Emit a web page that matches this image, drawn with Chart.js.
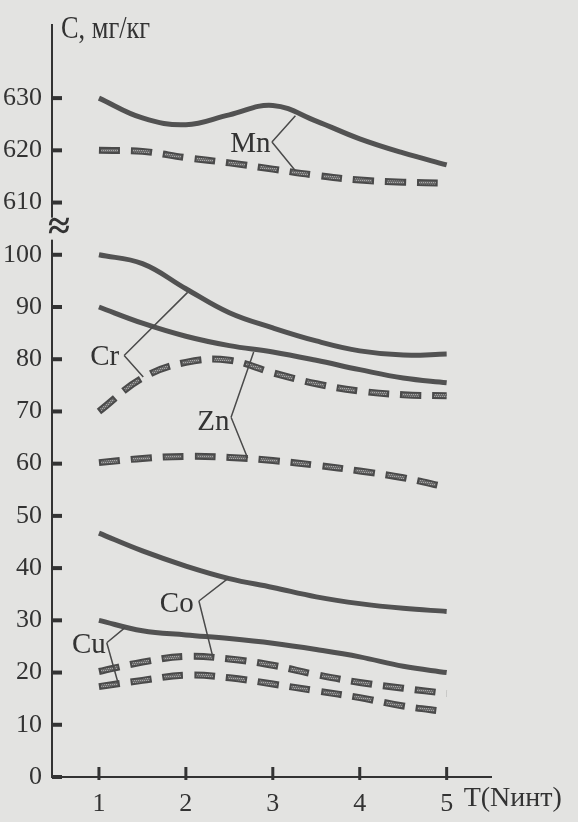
<!DOCTYPE html>
<html>
<head>
<meta charset="utf-8">
<script src="https://cdn.jsdelivr.net/npm/chart.js@4"></script>
<style>
  html, body { margin: 0; background: #e3e3e1; }
  #wrap { width: 578px; height: 822px; }
</style>
</head>
<body>
<div id="wrap"><canvas id="chart"></canvas></div>
<script>
// Concentration of metals, mg/kg, over the time intervals 1..5.
// Solid lines and dashed lines are the two curves of each metal.
const xs = [1, 1.5, 2, 2.5, 3, 3.5, 4, 4.5, 5];

const mnSolid  = [630, 626.2, 624.9, 626.8, 628.6, 625.6, 622.2, 619.5, 617.2];
const mnDashed = [620, 619.8, 618.6, 617.6, 616.4, 615.2, 614.3, 613.9, 613.7];
const crSolid  = [100, 98.3, 93.5, 88.9, 86.0, 83.5, 81.6, 80.8, 81.0];
const crDashed = [70, 76.4, 79.4, 79.8, 77.4, 75.3, 73.9, 73.2, 73.0];
const znSolid  = [90, 86.9, 84.4, 82.6, 81.4, 79.8, 78.0, 76.4, 75.5];
const znDashed = [60.2, 61.0, 61.4, 61.2, 60.6, 59.7, 58.6, 57.3, 55.5];
const coSolid  = [46.7, 43.3, 40.4, 38.0, 36.3, 34.5, 33.2, 32.3, 31.7];
const coDashed = [20.2, 22.0, 23.1, 22.6, 21.4, 19.6, 18.1, 17.0, 16.0];
const cuSolid  = [30, 28.0, 27.2, 26.5, 25.6, 24.4, 23.0, 21.2, 20.0];
const cuDashed = [17.3, 18.5, 19.5, 19.0, 17.8, 16.5, 15.2, 13.6, 12.5];

const yTicks = [0, 10, 20, 30, 40, 50, 60, 70, 80, 90, 100, 610, 620, 630];
const xTicks = [1, 2, 3, 4, 5];

// the axis is broken between 100 and 610: 610 sits one step above 100
const toAxis = (v) => (v > 500 ? v - 500 : v);

const INK = "#333333";
const LINE = "#525252";
const PAPER = "#e3e3e1";
const SERIF = '"Liberation Serif", "DejaVu Serif", serif';

// element names with their leader lines, in data units
const tags = [
  { text: "Mn", at: [2.51, 619.7], tip: [2.99, 621.6], ends: [[3.26, 626.6], [3.26, 616.1]] },
  { text: "Cr", at: [0.90, 78.9],  tip: [1.29, 80.7],  ends: [[2.02, 92.8], [1.51, 76.6]] },
  { text: "Zn", at: [2.13, 66.5],  tip: [2.52, 68.9],  ends: [[2.78, 81.4], [2.71, 61.1]] },
  { text: "Co", at: [1.70, 31.6],  tip: [2.15, 33.7],  ends: [[2.49, 38.1], [2.31, 23.0]] },
  { text: "Cu", at: [0.69, 23.8],  tip: [1.09, 25.7],  ends: [[1.30, 28.6], [1.22, 18.0]] },
];

function hatch() {
  const c = document.createElement("canvas");
  c.width = 4; c.height = 4;
  const g = c.getContext("2d");
  g.fillStyle = "#6a6a6a"; g.fillRect(0, 0, 4, 4);
  g.fillStyle = "#a8a8a8";
  g.fillRect(0, 0, 1, 1); g.fillRect(2, 0, 1, 1);
  g.fillRect(1, 2, 1, 1); g.fillRect(3, 2, 1, 1);
  return g.createPattern(c, "repeat");
}
const HATCH = hatch();

const pts = (arr) => xs.map((x, i) => ({ x, y: toAxis(arr[i]) }));

const solid = (arr) => ({
  data: pts(arr), borderColor: LINE, borderWidth: 5, order: 1,
});
const dashOuter = (arr) => ({
  data: pts(arr), borderColor: "#4a4a4a", borderWidth: 7,
  borderDash: [21, 11], order: 2,
});
const dashInner = (arr) => ({
  data: pts(arr), borderColor: HATCH, borderWidth: 3,
  borderDash: [17, 15], borderDashOffset: -2, order: 0,
});

const datasets = [];
[mnSolid, crSolid, znSolid, coSolid, cuSolid].forEach((a) => datasets.push(solid(a)));
[mnDashed, crDashed, znDashed, coDashed, cuDashed].forEach((a) => {
  datasets.push(dashOuter(a));
  datasets.push(dashInner(a));
});

const decor = {
  id: "decor",
  afterDraw(chart) {
    const { ctx, chartArea } = chart;
    const xS = chart.scales.x, yS = chart.scales.y;
    const px = (x) => xS.getPixelForValue(x);
    const py = (v) => yS.getPixelForValue(toAxis(v));
    ctx.save();

    // tick marks point into the plot
    ctx.fillStyle = INK;
    yTicks.forEach((v) => ctx.fillRect(chartArea.left, py(v) - 2, 10, 4));
    xTicks.forEach((v) => ctx.fillRect(px(v) - 1.5, chartArea.bottom - 10, 3, 13));

    // axis break
    const by = yS.getPixelForValue(105);
    ctx.fillStyle = PAPER;
    ctx.fillRect(chartArea.left - 4, by - 11, 10, 22);
    ctx.fillStyle = INK;
    ctx.font = "bold 40px " + SERIF;
    ctx.textAlign = "center";
    ctx.textBaseline = "middle";
    ctx.fillText("≈", chartArea.left + 7, by);

    // leader lines and names
    ctx.strokeStyle = "#4a4a4a";
    ctx.lineWidth = 1.5;
    tags.forEach((t) => {
      ctx.beginPath();
      t.ends.forEach((e) => {
        ctx.moveTo(px(t.tip[0]), py(t.tip[1]));
        ctx.lineTo(px(e[0]), py(e[1]));
      });
      ctx.stroke();
      ctx.fillStyle = INK;
      ctx.font = "29px " + SERIF;
      ctx.textAlign = "left";
      ctx.textBaseline = "alphabetic";
      ctx.fillText(t.text, px(t.at[0]), py(t.at[1]));
    });

    // axis titles
    ctx.font = "31px " + SERIF;
    ctx.save();
    ctx.translate(chartArea.left + 9, 38);
    ctx.scale(0.85, 1);
    ctx.fillText("C, мг/кг", 0, 0);
    ctx.restore();
    ctx.font = "28px " + SERIF;
    ctx.fillText("T(Nинт)", px(5) + 17, 806);

    ctx.restore();
  },
};

new Chart(document.getElementById("chart"), {
  type: "line",
  data: { datasets },
  options: {
    responsive: true,
    maintainAspectRatio: false,
    animation: false,
    layout: { padding: { top: 25, right: 87, left: 0, bottom: 0 } },
    plugins: { legend: { display: false }, tooltip: { enabled: false } },
    elements: {
      point: { radius: 0 },
      line: { tension: 0.4, borderCapStyle: "butt" },
    },
    scales: {
      x: {
        type: "linear", min: 0.46, max: 5.51,
        afterBuildTicks: (s) => { s.ticks = xTicks.map((v) => ({ value: v })); },
        afterFit: (s) => { s.height = 45; },
        grid: { display: false },
        border: { color: INK, width: 2 },
        ticks: { color: INK, font: { family: SERIF, size: 26 }, padding: 4 },
      },
      y: {
        type: "linear", min: 0, max: 144,
        afterBuildTicks: (s) => { s.ticks = yTicks.map((v) => ({ value: toAxis(v) })); },
        afterFit: (s) => { s.width = 52; },
        grid: { display: false },
        border: { color: INK, width: 2 },
        ticks: {
          color: INK, font: { family: SERIF, size: 26 }, padding: 2,
          callback: (v, i) => String(yTicks[i]),
        },
      },
    },
  },
  plugins: [decor],
});
</script>
</body>
</html>
